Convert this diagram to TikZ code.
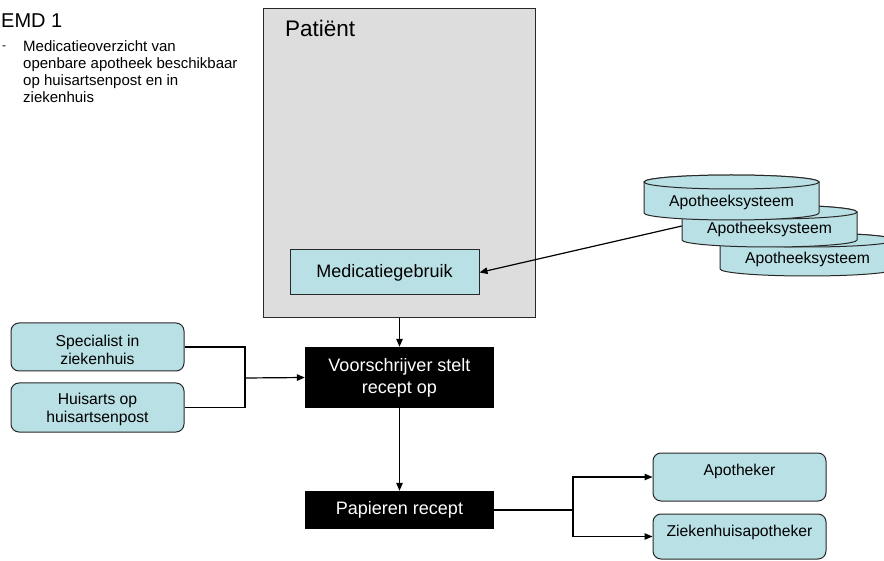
\documentclass[tikz,border=0pt]{standalone}
\usepackage{fontspec}
\setmainfont{Liberation Sans}
\usetikzlibrary{arrows.meta}

\definecolor{boxblue}{RGB}{185,224,228}
\definecolor{patgray}{RGB}{221,221,221}
\definecolor{edge}{RGB}{40,40,40}

\tikzset{
  conn/.style={line width=1.2pt, draw=black},
  arr/.style={conn, -{Triangle[length=8pt,width=6.5pt]}},
  bluebox/.style={draw=edge, line width=1pt, fill=boxblue, align=center, inner sep=0pt},
  roundbox/.style={bluebox, rounded corners=8pt, minimum width=173pt},
  blackbox/.style={fill=black, text=white, align=center, minimum width=189pt,
    inner sep=0pt, font=\fontsize{18}{22}\selectfont},
  small/.style={font=\fontsize{15.7}{18}\selectfont},
  drumline/.style={draw=edge, line width=1pt, fill=boxblue},
  plain/.style={inner sep=0pt},
}

% a drum (database cylinder): left x, right x, top y, bottom y
\newcommand\drum[4]{%
  \pgfmathsetmacro\drumrx{(#2-#1)/2}%
  \pgfmathsetmacro\drumcx{(#1+#2)/2}%
  \filldraw[drumline] (#1,#3+7) -- (#1,#4-7)
    arc[start angle=180, end angle=360, x radius=\drumrx pt, y radius=7pt]
    -- (#2,#3+7)
    arc[start angle=0, end angle=180, x radius=\drumrx pt, y radius=7pt] -- cycle;
  \draw[drumline] (\drumcx,#3+7) ellipse[x radius=\drumrx pt, y radius=7pt];
}

\begin{document}
\begin{tikzpicture}[x=1pt, y=-1pt]
\useasboundingbox (0,0) rectangle (884,561);
\clip (0,0) rectangle (884,561);

% heading and note
\node[plain, anchor=base west, font=\fontsize{20}{24}\selectfont] (emd) at (1,28) {EMD 1};
\node[plain, anchor=base west, font=\fontsize{12}{14}\selectfont] (dash) at (2,50) {-};
\node[plain, anchor=north west, align=left, font=\fontsize{15}{17}\selectfont] (note) at (23,40)
  {Medicatieoverzicht van\\openbare apotheek beschikbaar\\op huisartsenpost en in\\ziekenhuis};

% patient
\node[draw=edge, fill=patgray, line width=1pt, minimum width=272pt, minimum height=309pt,
  inner sep=0pt, anchor=north west] (pat) at (263,8) {};
\node[plain, anchor=base west, font=\fontsize{22.5}{26}\selectfont] (pattitle) at (285,37) {Patiënt};
\node[bluebox, minimum width=189pt, minimum height=45pt, font=\fontsize{18}{22}\selectfont]
  (med) at (384.5,272.5) {Medicatiegebruik};

% pharmacy systems
\drum{720}{895}{233}{276}
\node[plain, small, minimum width=175pt] (sys3) at (807.5,259) {Apotheeksysteem};
\drum{682}{857}{205}{247}
\node[plain, small, minimum width=175pt] (sys2) at (769.5,229) {Apotheeksysteem};
\drum{644}{819}{175}{220}
\node[plain, small, minimum width=175pt] (sys1) at (731.5,202) {Apotheeksysteem};

% prescribers
\node[roundbox, small, minimum height=48pt, text height=39pt, text depth=4pt] (spec) at (97.5,347) {Specialist in\\ziekenhuis};
\node[roundbox, small, minimum height=49pt, text height=34pt, text depth=4pt] (hui) at (97.5,407.5) {Huisarts op\\huisartsenpost};

% prescription flow
\node[blackbox, minimum height=61pt] (voor) at (399.5,377.5) {Voorschrijver stelt\\recept op};
\node[blackbox, minimum height=38pt] (pap) at (399.5,510) {Papieren recept};

% dispensers
\node[roundbox, small, minimum height=48pt, text height=11pt, text depth=14pt] (apo) at (739.5,477) {Apotheker};
\node[roundbox, small, minimum height=45pt, text height=11pt, text depth=12pt] (zkh) at (739.5,536.5) {Ziekenhuisapotheker};

% connectors
\draw[arr] ([yshift=3pt]sys2.west) -- (med.east);
\draw[arr] (pat.south) -- (pat.south |- voor.north);

\coordinate (join) at (245,378);
\draw[conn] (spec.east) -| (join);
\draw[conn] (hui.east) -| (join);
\draw[arr] (join) -- (voor.west);

\draw[arr] (voor.south) -- (pap.north);

\coordinate (split) at (573,510);
\draw[conn] (pap.east) -- (split);
\draw[arr] (split) |- (apo.west);
\draw[arr] (split) |- (zkh.west);
\end{tikzpicture}
\end{document}
